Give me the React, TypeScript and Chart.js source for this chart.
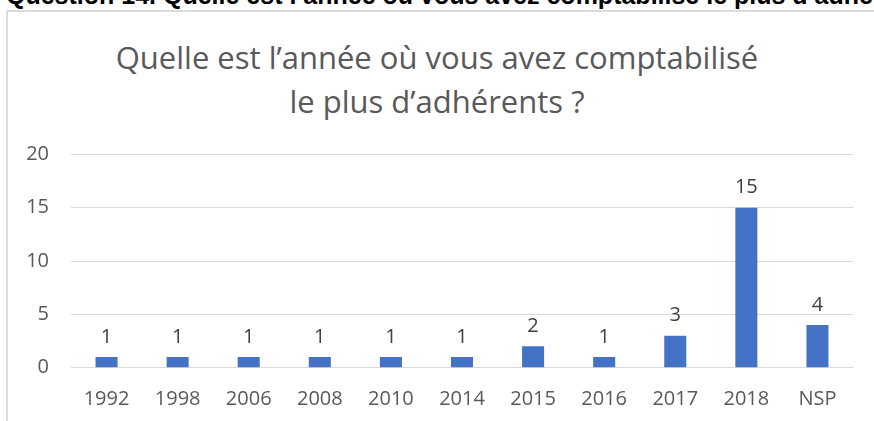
import React, { useEffect, useRef } from 'react';
import { Chart, registerables } from 'chart.js';

Chart.register(...registerables);

// ---- Data ----
const categories: string[] = ['1992', '1998', '2006', '2008', '2010', '2014', '2015', '2016', '2017', '2018', 'NSP'];
const counts: number[] = [1, 1, 1, 1, 1, 1, 2, 1, 3, 15, 4];
const yMin = 0;
const yMax = 20;
const yStep = 5;
const titleLines: string[] = ['Quelle est l’année où vous avez comptabilisé', 'le plus d’adhérents ?'];
const headerText = 'Question 14. Quelle est l’année où vous avez comptabilisé le plus d’adhérents ?';

const FONT = '"Open Sans", sans-serif';
const BAR_COLOR = '#4472C4';
const AXIS_TEXT = '#595959';
const LABEL_TEXT = '#404040';
const GRID = '#d9d9d9';

const dataLabels = {
  id: 'dataLabels',
  afterDatasetsDraw(chart: any) {
    const ctx = chart.ctx;
    const meta = chart.getDatasetMeta(0);
    const values = chart.data.datasets[0].data;
    ctx.save();
    ctx.font = `20px ${FONT}`;
    ctx.fillStyle = LABEL_TEXT;
    ctx.textAlign = 'center';
    ctx.textBaseline = 'middle';
    meta.data.forEach((el: any, i: number) => {
      ctx.fillText(String(values[i]), el.x, el.y - 20);
    });
    ctx.restore();
  },
};

export default function App() {
  const canvasRef = useRef<HTMLCanvasElement | null>(null);

  useEffect(() => {
    let chart: Chart | null = null;
    let cancelled = false;
    const create = () => {
      if (cancelled || !canvasRef.current) return;
      chart = new Chart(canvasRef.current, {
        type: 'bar',
        data: {
          labels: categories,
          datasets: [
            {
              data: counts,
              backgroundColor: BAR_COLOR,
              borderWidth: 0,
              categoryPercentage: 1,
              barPercentage: 0.31,
            },
          ],
        },
        options: {
          responsive: false,
          animation: false,
          events: [],
          layout: { padding: { top: 154.3, right: 21, bottom: 0, left: 0 } },
          plugins: {
            legend: { display: false },
            title: { display: false },
            tooltip: { enabled: false },
          },
          scales: {
            x: {
              grid: { display: false, drawTicks: false },
              border: { display: false },
              ticks: {
                color: AXIS_TEXT,
                font: { family: FONT, size: 20 },
                padding: 20,
                maxRotation: 0,
                autoSkip: false,
              },
              afterFit: (s: any) => {
                s.height = 53.3;
              },
            },
            y: {
              min: yMin,
              max: yMax,
              ticks: {
                stepSize: yStep,
                color: AXIS_TEXT,
                font: { family: FONT, size: 20 },
                padding: 22,
              },
              grid: { color: GRID, lineWidth: 1, drawTicks: false },
              border: { display: false },
              afterFit: (s: any) => {
                s.width = 71;
              },
            },
          },
        },
        plugins: [dataLabels],
      });
    };
    const fontsReady = (document as any).fonts
      ? Promise.all([
          (document as any).fonts.load(`20px ${FONT}`),
          (document as any).fonts.load(`31px ${FONT}`),
        ]).catch(() => null)
      : Promise.resolve(null);
    fontsReady.then(create);
    return () => {
      cancelled = true;
      if (chart) chart.destroy();
    };
  }, []);

  return (
    <div
      style={{
        position: 'fixed',
        left: 0,
        top: 0,
        width: 874,
        height: 421,
        overflow: 'hidden',
        background: '#ffffff',
      }}
    >
      <div
        style={{
          position: 'absolute',
          left: 6,
          top: -17.5,
          whiteSpace: 'nowrap',
          font: 'bold 25px/25px "Liberation Sans", Arial, sans-serif',
          color: '#000000',
        }}
      >
        {headerText}
      </div>
      <div
        style={{
          position: 'absolute',
          left: 6,
          top: 10,
          width: 920,
          height: 500,
          border: '2px solid #dcdcdc',
          boxSizing: 'border-box',
        }}
      />
      <div
        style={{
          position: 'absolute',
          left: 0,
          top: 35,
          width: 874,
          textAlign: 'center',
          font: `31px/44px ${FONT}`,
          color: AXIS_TEXT,
          whiteSpace: 'nowrap',
        }}
      >
        {titleLines.map((t) => (
          <div key={t}>{t}</div>
        ))}
      </div>
      <canvas
        ref={canvasRef}
        width={874}
        height={421}
        style={{ position: 'absolute', left: 0, top: 0, width: 874, height: 421 }}
      />
    </div>
  );
}
